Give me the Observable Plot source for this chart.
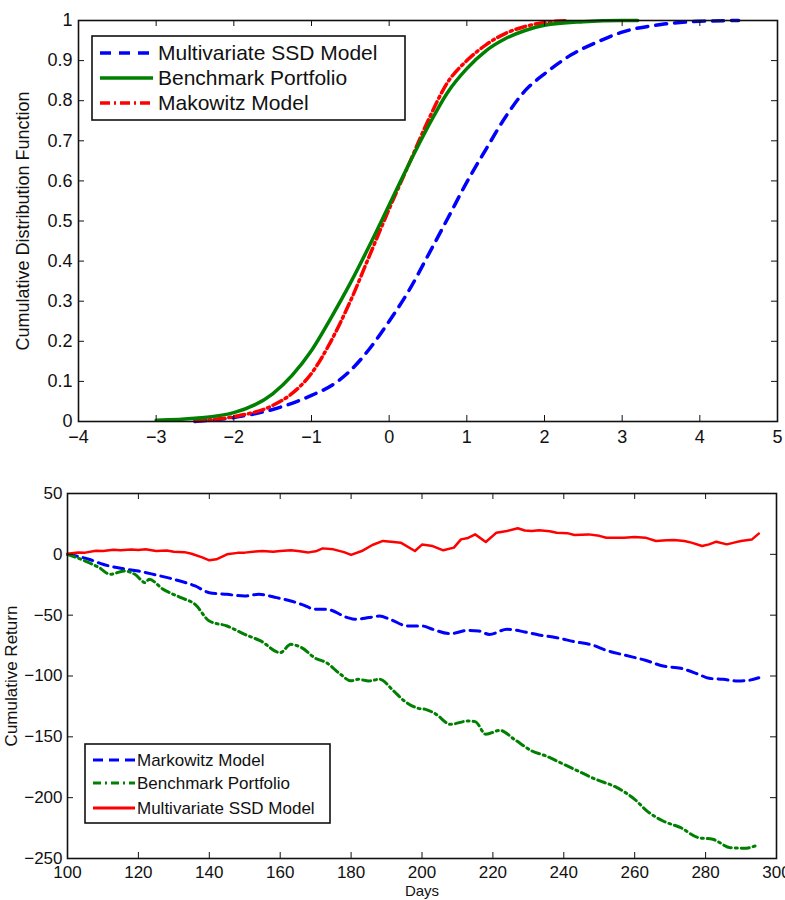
<!DOCTYPE html>
<html><head><meta charset="utf-8">
<script src="https://cdn.jsdelivr.net/npm/d3@7"></script>
<script src="https://cdn.jsdelivr.net/npm/@observablehq/plot@0.6"></script>
<style>
body{margin:0;background:#fff;}
#chart{width:785px;}
svg{display:block;}
</style></head><body><div id="chart"></div>
<script>
// ---------- Top panel: cumulative distribution functions ----------
const cdfXTicks = [-4,-3,-2,-1,0,1,2,3,4,5];
const cdfYTicks = [0,0.1,0.2,0.3,0.4,0.5,0.6,0.7,0.8,0.9,1];
const cdfLabels = ["Multivariate SSD Model","Benchmark Portfolio","Makowitz Model"];

const ssdX   = [-2.5,-2,-1.5,-1,-0.7,-0.5,-0.25,0,0.25,0.5,0.75,1,1.25,1.5,1.75,2,2.35,2.7,3,3.5,4,4.5];
const ssdCdf = [0,0.01,0.03,0.065,0.095,0.127,0.182,0.25,0.325,0.414,0.505,0.597,0.68,0.76,0.825,0.867,0.915,0.948,0.971,0.99,0.998,1];

const benchX   = [-3,-2.5,-2,-1.5,-1.25,-1,-0.75,-0.5,-0.25,0,0.25,0.5,0.75,1,1.25,1.5,1.75,2,2.5,3,3.2];
const benchCdf = [0.003,0.008,0.022,0.069,0.115,0.177,0.258,0.345,0.44,0.54,0.64,0.735,0.82,0.88,0.925,0.955,0.975,0.988,0.997,1,1];

const markX   = [-2.5,-2,-1.5,-1.25,-1,-0.75,-0.5,-0.25,0,0.25,0.5,0.75,1,1.25,1.5,1.75,2,2.3];
const markCdf = [0.002,0.012,0.04,0.07,0.12,0.2,0.3,0.415,0.53,0.64,0.75,0.845,0.9,0.94,0.968,0.985,0.995,1];

// ---------- Bottom panel: cumulative return ----------
const retXTicks = [100,120,140,160,180,200,220,240,260,280,300];
const retYTicks = [50,0,-50,-100,-150,-200,-250];
const retLabels = ["Markowitz Model","Benchmark Portfolio","Multivariate SSD Model"];

const markDays = [100,106,110,115,120,125,130,136,140,145,150,154,159,163,166,170,173,179,181,185,188,191,196,200,203,208,213,216,219,224,229,233,238,243,248,252,257,263,268,273,278,281,285,289,292,295];
const markRet  = [0,-4,-8.2,-11.5,-13.7,-17,-20.5,-26,-31.5,-32.9,-34.2,-32.9,-35.6,-38.4,-41.1,-45.2,-45.2,-52,-53.4,-52,-50.7,-53.4,-58.9,-58.9,-61.6,-65.2,-62.5,-63,-65.8,-61.6,-63.8,-66.3,-68.5,-71.8,-74.5,-78.9,-82.7,-87.1,-91.8,-93.7,-98.6,-101.9,-102.7,-104.1,-103.6,-101.4];

const benchDays = [100,105,109,112,116,119,122,123,127,132,136,140,145,150,154.5,160,163,166,170,173,177,180,182,185,188,192,195,199,201,204,208,213,215,218,222,226,231,235,240,245,249,255,260,263.5,268,273,278,282,287,291,294];
const benchRet  = [0,-5.5,-11,-16.4,-13.7,-16.4,-23.3,-20.5,-28.8,-35.6,-41.1,-54.8,-58.9,-65.8,-71.2,-80.8,-74,-76.7,-85.5,-89,-98.6,-104,-102.7,-104.1,-102.7,-112.3,-120.5,-126.6,-127.4,-131.5,-139.7,-137,-137.5,-147.9,-144.7,-152,-161.6,-165.8,-172.6,-179.5,-184.9,-191.8,-201.4,-211,-219.2,-224.7,-232.9,-234.2,-241.1,-241.6,-239.7];

const ssdDays = [100,103,105,108,110,113,115,118,120,122,125,128,130,133,135,138,140,142,145,148,150,153,155,158,160,163,165,168,170,172,175,178,180,183,186,189,192,194,198,200,203,206,209,211,213,215,218,221,224,227,229,231,233,236,238,241,243,247,250,252,257,260,263,266,269,271,274,276,279,281,283,286,288,290,293,295];
const ssdRet  = [0.5,1.6,1.4,2.9,2.7,3.8,3.3,3.9,3.6,4.1,2.7,3.2,2.2,1.8,0.5,-2.5,-4.9,-4.1,0,1.2,1.4,2.4,2.7,2.1,2.7,3.4,2.7,1.6,2.5,4.9,4.1,1.8,-0.5,2.7,7.7,11,10.1,9.6,2.7,8,6.8,3.3,5.5,12.3,13.5,16.4,10.1,17.8,19.2,21.4,19.6,19.2,19.7,18.9,17.8,17.4,15.9,16.4,15.2,13.7,13.7,14.2,13.7,11,11.5,11.8,10.9,9.6,6.8,8.2,10.4,8.2,9.6,11,12.1,17];

// ---------- styles ----------
const FONT = "Liberation Sans, Arial, Helvetica, sans-serif";
const INK = "#111";
const BLUE = "#0000ff", GREEN = "#008000", RED = "#ff0000";
const fmt = d3.format("~g");

const rows = (xs, ys) => xs.map((x, i) => ({x, y: ys[i]}));

function inwardTicks(xt, yt, plotW, plotH) {
  return [
    Plot.tickX(xt, {x: d => d, insetTop: plotH - 6, stroke: INK}),
    Plot.tickX(xt, {x: d => d, insetBottom: plotH - 6, stroke: INK}),
    Plot.tickY(yt, {y: d => d, insetRight: plotW - 6, stroke: INK}),
    Plot.tickY(yt, {y: d => d, insetLeft: plotW - 6, stroke: INK})
  ];
}

function addLegend(svg, box, items, fontSize) {
  const g = d3.select(svg).append("g");
  g.append("rect").attr("x", box.x).attr("y", box.y).attr("width", box.w).attr("height", box.h)
    .attr("fill", "#fff").attr("stroke", INK).attr("stroke-width", 1.6);
  items.forEach((it, i) => {
    const yy = box.rowY[i];
    g.append("line").attr("x1", box.lx1).attr("x2", box.lx2).attr("y1", yy).attr("y2", yy)
      .attr("stroke", it.color).attr("stroke-width", it.width).attr("stroke-dasharray", it.dash || null);
    g.append("text").attr("x", box.tx).attr("y", yy).attr("dy", "0.35em")
      .attr("text-anchor", "start")
      .attr("font-family", FONT).attr("font-size", fontSize).attr("fill", INK).text(it.label);
  });
}

// ---------- top chart ----------
const W = 785, H1 = 450;
const m1 = {l: 78, r: 8, t: 20, b: 29};
const pw1 = W - m1.l - m1.r, ph1 = H1 - m1.t - m1.b;

const cdfChart = Plot.plot({
  width: W, height: H1,
  marginLeft: m1.l, marginRight: m1.r, marginTop: m1.t, marginBottom: m1.b,
  style: {fontFamily: FONT, fontSize: "18px", color: INK, background: "#fff"},
  x: {domain: [-4, 5]},
  y: {domain: [0, 1]},
  marks: [
    Plot.line(rows(ssdX, ssdCdf), {x: "x", y: "y", stroke: BLUE, strokeWidth: 3.5, strokeDasharray: "11,8", curve: "monotone-x"}),
    Plot.line(rows(markX, markCdf), {x: "x", y: "y", stroke: RED, strokeWidth: 3.5, strokeDasharray: "10,4,2,4", curve: "monotone-x"}),
    Plot.line(rows(benchX, benchCdf), {x: "x", y: "y", stroke: GREEN, strokeWidth: 3.5, curve: "monotone-x"}),
    ...inwardTicks(cdfXTicks, cdfYTicks, pw1, ph1),
    Plot.frame({stroke: INK, strokeWidth: 1.6}),
    Plot.axisX(cdfXTicks, {tickSize: 0, tickPadding: 9, label: null, tickFormat: fmt}),
    Plot.axisY(cdfYTicks, {tickSize: 0, tickPadding: 6, label: null, tickFormat: fmt}),
    Plot.text(["Cumulative Distribution Function"], {frameAnchor: "left", textAnchor: "middle", dx: -55, rotate: -90, text: d => d, fontSize: 18, fill: INK})
  ]
});
addLegend(cdfChart, {x: 92, y: 36, w: 313, h: 84, rowY: [53, 78, 103], lx1: 100, lx2: 153, tx: 158},
  [
    {label: cdfLabels[0], color: BLUE, width: 3.5, dash: "11,8"},
    {label: cdfLabels[1], color: GREEN, width: 3.5},
    {label: cdfLabels[2], color: RED, width: 3.5, dash: "10,4,2,4"}
  ], 21);

// ---------- bottom chart ----------
const H2 = 450;
const m2 = {l: 67, r: 9, t: 43, b: 42};
const pw2 = W - m2.l - m2.r, ph2 = H2 - m2.t - m2.b;

const retChart = Plot.plot({
  width: W, height: H2,
  marginLeft: m2.l, marginRight: m2.r, marginTop: m2.t, marginBottom: m2.b,
  style: {fontFamily: FONT, fontSize: "17px", color: INK, background: "#fff"},
  x: {domain: [100, 300]},
  y: {domain: [-250, 50]},
  marks: [
    Plot.line(rows(markDays, markRet), {x: "x", y: "y", stroke: BLUE, strokeWidth: 3, strokeDasharray: "10,6", curve: "monotone-x"}),
    Plot.line(rows(benchDays, benchRet), {x: "x", y: "y", stroke: GREEN, strokeWidth: 3, strokeDasharray: "8,4,2,4", curve: "monotone-x"}),
    Plot.line(rows(ssdDays, ssdRet), {x: "x", y: "y", stroke: RED, strokeWidth: 2.5}),
    ...inwardTicks(retXTicks, retYTicks, pw2, ph2),
    Plot.frame({stroke: INK, strokeWidth: 1.6}),
    Plot.axisX(retXTicks, {tickSize: 0, tickPadding: 7, label: null, tickFormat: fmt}),
    Plot.axisY(retYTicks, {tickSize: 0, tickPadding: 5, label: null, tickFormat: fmt}),
    Plot.text(["Cumulative Return"], {frameAnchor: "left", textAnchor: "middle", dx: -56, rotate: -90, text: d => d, fontSize: 17, fill: INK}),
    Plot.text(["Days"], {frameAnchor: "bottom", lineAnchor: "top", dy: 27, text: d => d, fontSize: 15, fill: INK})
  ]
});
addLegend(retChart, {x: 85, y: 294, w: 245, h: 79, rowY: [310, 333, 358], lx1: 93, lx2: 135, tx: 137},
  [
    {label: retLabels[0], color: BLUE, width: 3, dash: "10,6"},
    {label: retLabels[1], color: GREEN, width: 3, dash: "8,4,2,4"},
    {label: retLabels[2], color: RED, width: 3}
  ], 17);

const chart = document.getElementById("chart");
chart.appendChild(cdfChart);
chart.appendChild(retChart);
</script>
</body></html>
